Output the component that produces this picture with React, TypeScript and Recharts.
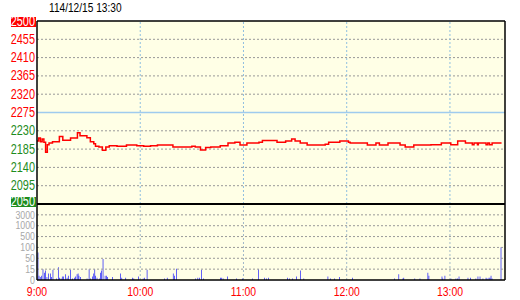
import React from 'react'
import {
  Bar, BarChart, CartesianGrid, Line, LineChart, ReferenceLine, XAxis, YAxis,
} from 'recharts'

const title = '114/12/15 13:30'

// minutes after 9:00
const timeTicks = [0, 60, 120, 180, 240]
const timeLabels = ['9:00', '10:00', '11:00', '12:00', '13:00']
const xEnd = 272

const priceTicks = [2050, 2095, 2140, 2185, 2230, 2275, 2320, 2365, 2410, 2455, 2500]
const refPrice = 2275

const volTicks = [0, 15, 50, 100, 500, 1000, 3000, 5000]
const volLabels = ['0', '15', '50', '100', '500', '1000', '3000']

const priceMinutes = [
  0, 1, 2, 3, 4, 5, 6, 7, 9, 13, 15, 19.5, 23.5, 25, 29, 31, 33, 34, 36, 38,
  40, 42, 46.5, 52, 58, 62, 66, 70, 79, 90, 92, 95, 98, 101, 106.5, 111, 115, 118, 122, 129,
  131, 139.5, 144.5, 148, 150, 153, 157, 167.5, 169.5, 176, 181, 182, 192, 197, 199, 204, 211, 214, 219, 229,
  235, 240.5, 244.5, 249, 253, 254, 256, 256.5, 261, 262, 263, 264.5, 270,
]
const prices = [
  2205, 2212, 2203, 2210, 2202, 2177, 2196, 2200, 2203, 2216, 2207, 2212, 2225, 2218, 2213, 2203, 2198, 2192, 2190, 2182,
  2190, 2193, 2192, 2195, 2193, 2192, 2193, 2195, 2190, 2192, 2190, 2183, 2189, 2190, 2193, 2200, 2202, 2195, 2200, 2202,
  2206, 2202, 2205, 2210, 2205, 2200, 2195, 2197, 2202, 2205, 2202, 2200, 2195, 2200, 2195, 2200, 2195, 2190, 2195, 2196,
  2200, 2196, 2205, 2200, 2196, 2200, 2196, 2200, 2196, 2200, 2196, 2200, 2200,
]

const volMinutes = [
  0.6, 1.2, 1.9, 2.7, 3.5, 4.3, 5, 5.8, 6.8, 7.8, 8.5, 9.3, 11.3, 12.4, 13.2, 14, 14.7, 15.5, 16.7, 17.5,
  18.2, 19.4, 20.6, 21.7, 22.5, 23.3, 23.9, 24.4, 25.2, 29.1, 30.3, 31, 32.2, 33, 33.6, 34.1, 34.9, 36.5, 36.9, 37.6,
  38.4, 39.6, 40.4, 41.1, 43.8, 48.5, 49.3, 51.6, 55.5, 56.3, 59, 61.7, 62.5, 64, 74.1, 75.7, 79.2, 79.9, 81.1, 92.2,
  93.5, 94.4, 95.6, 96.8, 106.6, 107.4, 108.2, 110.7, 116, 119.5, 125.3, 128.8, 132.3, 133.4, 134.6, 145.6, 146.8, 148.5, 150.9, 153.2,
  155.1, 169.1, 170.7, 173, 175.9, 183.4, 207.8, 210.3, 212.7, 213.2, 219.6, 222.6, 227.2, 227.8, 235.4, 235.9, 237.1, 240.6, 243.5, 244.3,
  245.3, 250.5, 252, 255.1, 256.3, 257.5, 259.2, 261, 261.6, 262.7, 263.3, 263.9, 264.5, 269.7,
]
const volumes = [
  77, 6, 4, 6, 15, 10, 13, 4, 9, 9, 4, 14, 2, 21, 3, 2, 5, 5, 8, 3,
  6, 14, 2, 3, 5, 8, 9, 6, 4, 2, 15, 2, 5, 9, 15, 6, 3, 2, 10, 13,
  48, 6, 6, 4, 4, 9, 3, 3, 3, 2, 5, 2, 3, 14, 2, 3, 9, 6, 16, 2,
  3, 3, 14, 2, 3, 3, 2, 5, 2, 2, 2, 15, 3, 2, 3, 3, 2, 2, 5, 13,
  2, 5, 2, 2, 4, 3, 2, 8, 2, 3, 2, 2, 10, 6, 5, 2, 6, 2, 2, 2,
  5, 3, 3, 2, 5, 5, 2, 3, 2, 3, 3, 6, 2, 110,
]

// piecewise volume scale: each labelled step gets the same height
const volLevel = (v: number) => {
  for (let i = 0; i < volTicks.length - 1; i++) {
    if (v < volTicks[i + 1]) return i + (v - volTicks[i]) / (volTicks[i + 1] - volTicks[i])
  }
  return volTicks.length - 1
}

const priceData = priceMinutes.map((t, i) => ({ t, price: prices[i] }))
const volData = volMinutes.map((t, i) => ({ t, level: volLevel(volumes[i]) }))

const RED = '#ff0000'
const GREEN = '#1e8c1e'
const BG = '#ffffe6'
const FONT = "'Liberation Sans', Arial, sans-serif"

// the original uses a narrow face, so the text is squeezed horizontally
const PriceTick = (props: any) => {
  const { x, y, payload } = props
  const v = payload.value
  const color = v >= refPrice ? RED : GREEN
  const boxed = v === 2500 || v === 2050
  const cy = v === 2500 ? y + 1 : v === 2050 ? y - 2 : y
  return (
    <g>
      {boxed && <rect x={x - 24} y={cy - 5} width={25} height={10} fill={color} />}
      <text
        transform={`translate(${x} ${cy}) scale(0.78 1)`} x={0} y={0}
        textAnchor='end' dominantBaseline='central'
        fill={boxed ? '#fff' : color} fontSize={14} fontFamily={FONT}
      >
        {v}
      </text>
    </g>
  )
}

const VolTick = (props: any) => {
  const { x, y, payload } = props
  return (
    <text
      transform={`translate(${x} ${y}) scale(0.88 1)`} x={0} y={0}
      textAnchor='end' dominantBaseline='central'
      fill='#a8a8a8' fontSize={10} fontFamily={FONT}
    >
      {volLabels[payload.value]}
    </text>
  )
}

const TimeTick = (props: any) => {
  const { x, y, payload } = props
  return (
    <text
      transform={`translate(${x} ${y + 12}) scale(0.87 1)`} x={0} y={0}
      textAnchor='middle' dominantBaseline='central'
      fill={RED} fontSize={12} fontFamily={FONT}
    >
      {timeLabels[timeTicks.indexOf(payload.value)]}
    </text>
  )
}

export default function App() {
  return (
    <div style={{
      position: 'absolute', left: 0, top: 0, width: 520, height: 300, background: '#fff',
    }}
    >
      <div style={{
        position: 'absolute', left: 49, top: 1, fontFamily: FONT, fontSize: 13, lineHeight: '14px',
        color: '#000', transform: 'scaleX(0.78)', transformOrigin: 'left top', whiteSpace: 'nowrap',
      }}
      >
        {title}
      </div>

      <div style={{ position: 'absolute', left: 0, top: 204 }}>
        <BarChart width={520} height={96} data={volData} margin={{ top: 0, right: 15, bottom: 4, left: 0 }}>
          <CartesianGrid fill={BG} horizontal={false} vertical={false} />
          <XAxis
            dataKey='t' type='number' domain={[0, xEnd]} ticks={timeTicks}
            tick={<TimeTick />} tickLine={false} tickSize={0} tickMargin={0}
            axisLine={{ stroke: '#000', strokeWidth: 1.5 }} height={16} allowDataOverflow
          />
          <YAxis
            type='number' domain={[0, 7]} ticks={[0, 1, 2, 3, 4, 5, 6]} interval={0}
            tick={<VolTick />} tickLine={false} tickSize={0} tickMargin={2}
            axisLine={{ stroke: '#000', strokeWidth: 1.5 }} width={37} allowDataOverflow
          />
          {[1, 2, 3, 4, 5, 6].map(l => (
            <ReferenceLine key={l} y={l} stroke='#999' strokeDasharray='2 2' />
          ))}
          {timeTicks.slice(1).map(t => (
            <ReferenceLine key={t} x={t} stroke='#a0b8c8' strokeDasharray='2 2' />
          ))}
          <ReferenceLine x={xEnd} stroke='#000' strokeWidth={1.5} />
          <Bar dataKey='level' fill='#0000ff' barSize={2} isAnimationActive={false} />
        </BarChart>
      </div>

      <div style={{ position: 'absolute', left: 0, top: 0 }}>
        <LineChart width={520} height={210} data={priceData} margin={{ top: 21, right: 15, bottom: 6, left: 0 }}>
          <CartesianGrid fill={BG} horizontal={false} vertical={false} />
          <XAxis dataKey='t' type='number' domain={[0, xEnd]} hide allowDataOverflow />
          <YAxis
            type='number' domain={[2050, 2500]} ticks={priceTicks} interval={0}
            tick={<PriceTick />} tickLine={false} tickSize={0} tickMargin={2}
            axisLine={{ stroke: '#000', strokeWidth: 1.5 }} width={37} allowDataOverflow
          />
          {priceTicks.filter(p => p !== 2050 && p !== 2500 && p !== refPrice).map(p => (
            <ReferenceLine key={p} y={p} stroke='#999' strokeDasharray='2 2' />
          ))}
          {timeTicks.slice(1).map(t => (
            <ReferenceLine key={t} x={t} stroke='#8fbfe0' strokeDasharray='2 2' />
          ))}
          <ReferenceLine y={refPrice} stroke='#9fcbee' strokeWidth={1.5} />
          <ReferenceLine y={2500} stroke='#000' strokeWidth={1.5} />
          <ReferenceLine y={2050} stroke='#000' strokeWidth={2} />
          <ReferenceLine x={xEnd} stroke='#000' strokeWidth={1.5} />
          <Line
            type='stepAfter' dataKey='price' stroke={RED} strokeWidth={1.5}
            dot={false} isAnimationActive={false}
          />
        </LineChart>
      </div>
    </div>
  )
}
